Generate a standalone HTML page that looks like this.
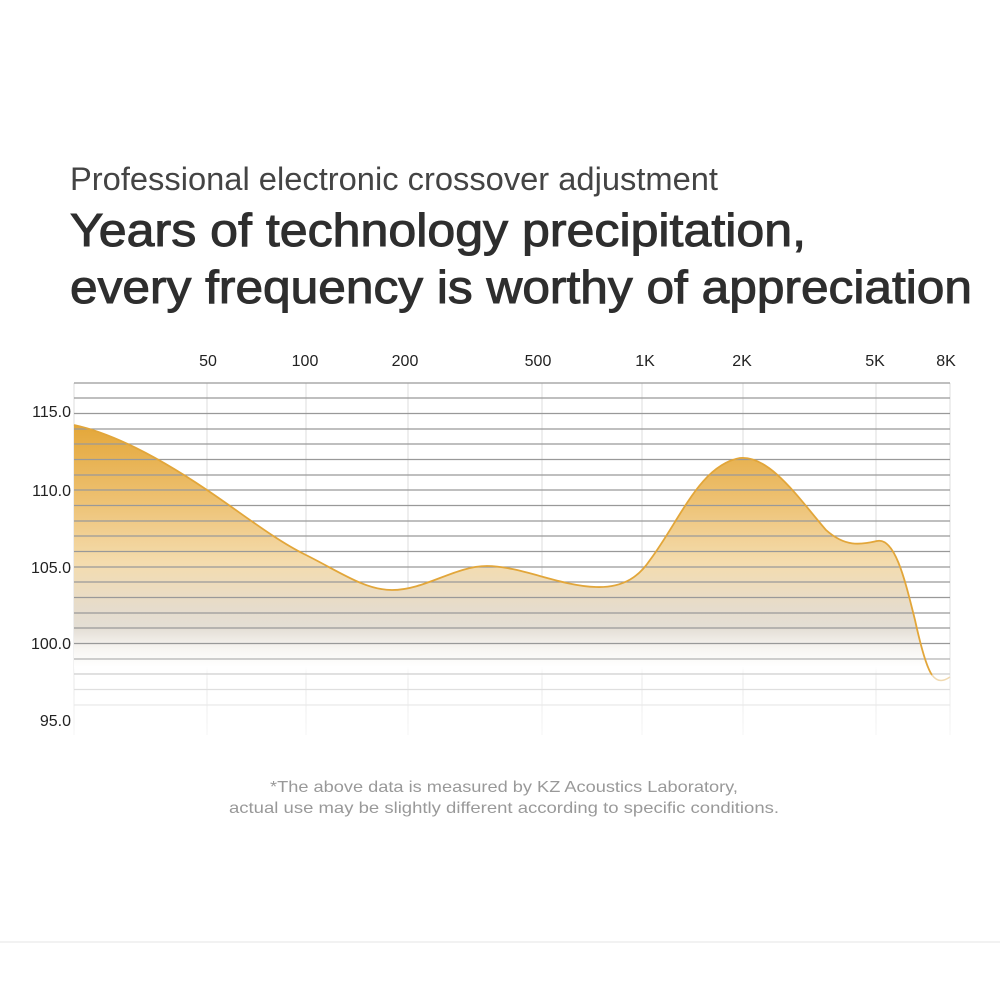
<!DOCTYPE html>
<html><head><meta charset="utf-8"><style>
html,body{margin:0;padding:0;background:#fff;width:1000px;height:1000px;overflow:hidden}
svg{display:block}
text{font-family:"Liberation Sans","Noto Sans CJK SC",sans-serif}
</style></head><body>
<svg width="1000" height="1000" viewBox="0 0 1000 1000" xmlns="http://www.w3.org/2000/svg">
<defs>
<linearGradient id="f" x1="0" y1="420" x2="0" y2="680" gradientUnits="userSpaceOnUse">
<stop offset="0" stop-color="#e3a535"/>
<stop offset="0.3" stop-color="#edc070"/>
<stop offset="0.55" stop-color="#f4dcae"/>
<stop offset="0.72" stop-color="#e6dccb"/>
<stop offset="0.8" stop-color="#e4ded5"/>
<stop offset="0.88" stop-color="#f7f5f2"/>
<stop offset="0.95" stop-color="#ffffff"/>
<stop offset="1" stop-color="#ffffff" stop-opacity="0"/>
</linearGradient>
<linearGradient id="gl" x1="0" y1="380" x2="0" y2="720" gradientUnits="userSpaceOnUse">
<stop offset="0" stop-color="#999"/>
<stop offset="0.78" stop-color="#999"/>
<stop offset="0.88" stop-color="#d8d8d8"/>
<stop offset="1" stop-color="#f3f3f3"/>
</linearGradient>
<linearGradient id="vl" x1="0" y1="380" x2="0" y2="740" gradientUnits="userSpaceOnUse">
<stop offset="0" stop-color="#ddd"/>
<stop offset="0.7" stop-color="#ddd"/>
<stop offset="1" stop-color="#f6f6f6"/>
</linearGradient>
</defs>

<text x="70" y="190" font-size="32" fill="#444" textLength="648" lengthAdjust="spacingAndGlyphs">Professional electronic crossover adjustment</text>
<text x="70" y="246" font-size="46" fill="#2e2e2e" stroke="#2e2e2e" stroke-width="1" textLength="736" lengthAdjust="spacingAndGlyphs">Years of technology precipitation,</text>
<text x="70" y="303" font-size="46" fill="#2e2e2e" stroke="#2e2e2e" stroke-width="1" textLength="902" lengthAdjust="spacingAndGlyphs">every frequency is worthy of appreciation</text>

<g font-size="16" fill="#222" text-anchor="middle">
<text x="208" y="366">50</text><text x="305" y="366">100</text><text x="405" y="366">200</text>
<text x="538" y="366">500</text><text x="645" y="366">1K</text><text x="742" y="366">2K</text>
<text x="875" y="366">5K</text><text x="946" y="366">8K</text>
</g>
<g font-size="16" fill="#222" text-anchor="end">
<text x="71" y="417">115.0</text><text x="71" y="496">110.0</text><text x="71" y="573">105.0</text>
<text x="71" y="649">100.0</text><text x="71" y="726">95.0</text>
</g>

<g stroke="url(#vl)" stroke-width="1">
<line x1="74" y1="383" x2="74" y2="735"/><line x1="207" y1="383" x2="207" y2="735"/>
<line x1="306" y1="383" x2="306" y2="735"/><line x1="408" y1="383" x2="408" y2="735"/>
<line x1="542" y1="383" x2="542" y2="735"/><line x1="642" y1="383" x2="642" y2="735"/>
<line x1="743" y1="383" x2="743" y2="735"/><line x1="876" y1="383" x2="876" y2="735"/>
<line x1="950" y1="383" x2="950" y2="735"/>
</g>

<path d="M74,425 C120,435 170,465 207,490 C240,512 275,540 306,555 C340,572 365,590 392,590 C425,590 455,566 487,566 C520,566 560,586 596,587 C625,588 640,575 650,560 C680,520 700,465 740,458 C770,455 800,500 826,530 C845,547 860,545 877,541 C895,537 905,580 915,620 C925,665 935,685 950,677 L950,740 L74,740 Z" fill="url(#f)"/>

<g stroke="url(#gl)" stroke-width="1.3">
<line x1="74" y1="383" x2="950" y2="383"/>
<line x1="74" y1="398" x2="950" y2="398"/><line x1="74" y1="413.5" x2="950" y2="413.5"/>
<line x1="74" y1="429" x2="950" y2="429"/><line x1="74" y1="444" x2="950" y2="444"/>
<line x1="74" y1="459.5" x2="950" y2="459.5"/><line x1="74" y1="475" x2="950" y2="475"/>
<line x1="74" y1="490" x2="950" y2="490"/><line x1="74" y1="505.5" x2="950" y2="505.5"/>
<line x1="74" y1="521" x2="950" y2="521"/><line x1="74" y1="536" x2="950" y2="536"/>
<line x1="74" y1="551.5" x2="950" y2="551.5"/><line x1="74" y1="567" x2="950" y2="567"/>
<line x1="74" y1="582" x2="950" y2="582"/><line x1="74" y1="597.5" x2="950" y2="597.5"/>
<line x1="74" y1="613" x2="950" y2="613"/><line x1="74" y1="628" x2="950" y2="628"/>
<line x1="74" y1="643.5" x2="950" y2="643.5"/><line x1="74" y1="659" x2="950" y2="659"/>
<line x1="74" y1="674" x2="950" y2="674"/><line x1="74" y1="689.5" x2="950" y2="689.5"/>
<line x1="74" y1="705" x2="950" y2="705"/>
</g>

<path d="M74,425 C120,435 170,465 207,490 C240,512 275,540 306,555 C340,572 365,590 392,590 C425,590 455,566 487,566 C520,566 560,586 596,587 C625,588 640,575 650,560 C680,520 700,465 740,458 C770,455 800,500 826,530 C845,547 860,545 877,541 C895,537 905,580 915,620 C922,652 927,668 932,675" fill="none" stroke="#e2a63a" stroke-width="1.8"/>
<path d="M932,675 C938,683 944,681 950,677" fill="none" stroke="#f0d9b0" stroke-width="1.5"/>

<g font-size="16" fill="#999" text-anchor="middle">
<text x="504" y="792" textLength="468" lengthAdjust="spacingAndGlyphs">*The above data is measured by KZ Acoustics Laboratory,</text>
<text x="504" y="813" textLength="550" lengthAdjust="spacingAndGlyphs">actual use may be slightly different according to specific conditions.</text>
</g>
<line x1="0" y1="942" x2="1000" y2="942" stroke="#e6e6e6" stroke-width="1"/>
</svg>
</body></html>
